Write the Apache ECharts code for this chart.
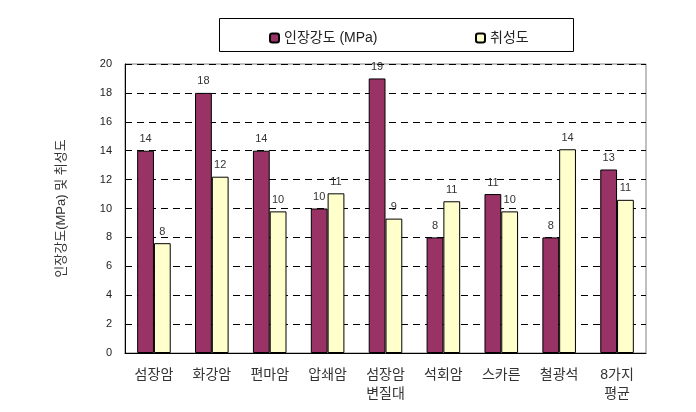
<!DOCTYPE html>
<html>
<head>
<meta charset="utf-8">
<script src="https://cdn.jsdelivr.net/npm/echarts@6/dist/echarts.min.js"></script>
<style>
  html, body { margin: 0; padding: 0; background: #fff; }
  #chart { width: 696px; height: 412px; }
</style>
</head>
<body>
<div id="chart"></div>
<script>
// 암석별 인장강도 / 취성도
var rocks = ['섬장암', '화강암', '편마암', '압쇄암', '섬장암\n변질대', '석회암', '스카른', '철광석', '8가지\n평균'];
var tensile = [14, 18, 14, 10, 19, 8, 11, 8, 12.7];
var brittle = [7.6, 12.2, 9.8, 11.05, 9.3, 10.5, 9.8, 14.1, 10.6];
var yTicks = [0, 20, 2];   // min, max, interval

var FONT = "'Liberation Sans', 'Noto Sans CJK KR', sans-serif";

var myChart = echarts.init(document.getElementById('chart'));

var option = {
  animation: false,
  textStyle: { fontFamily: FONT },
  graphic: [{
    type: 'rect',
    shape: { x: 219.5, y: 18.5, width: 354, height: 33 },
    style: { fill: 'none', stroke: '#000', lineWidth: 1 }
  }],
  legend: [{
    left: 264, top: 26,
    data: ['인장강도 (MPa)'],
    itemWidth: 9, itemHeight: 9, itemGap: 4,
    textStyle: { fontSize: 14, color: '#222', fontFamily: FONT }
  }, {
    left: 470, top: 26,
    data: ['취성도'],
    itemWidth: 9, itemHeight: 9, itemGap: 4,
    textStyle: { fontSize: 14, color: '#222', fontFamily: FONT }
  }],
  grid: {
    left: 125, right: 50, top: 64, bottom: 59,
    show: true, borderColor: '#808080', borderWidth: 1
  },
  xAxis: {
    type: 'category',
    data: rocks,
    axisLine: { lineStyle: { color: '#000' } },
    axisTick: { inside: true, length: 5, lineStyle: { color: '#000' } },
    axisLabel: {
      fontSize: 14, color: '#333', margin: 13, lineHeight: 19,
      fontFamily: FONT
    }
  },
  yAxis: {
    type: 'value',
    min: yTicks[0], max: yTicks[1], interval: yTicks[2],
    name: '인장강도(MPa) 및 취성도',
    nameLocation: 'middle',
    nameGap: 57,
    nameTextStyle: { fontSize: 13, color: '#333', fontFamily: FONT },
    axisLine: { show: true, lineStyle: { color: '#000' } },
    axisTick: { show: true, inside: true, length: 5, lineStyle: { color: '#000' } },
    axisLabel: { fontSize: 11, color: '#222', margin: 13 },
    splitLine: { lineStyle: { color: '#000', type: [7, 5], width: 1 } }
  },
  series: [{
    name: '인장강도 (MPa)',
    type: 'bar',
    data: tensile,
    barGap: '0%',
    barCategoryGap: '42%',
    itemStyle: { color: '#993366', borderColor: '#000', borderWidth: 1 },
    label: {
      show: true, position: 'top', distance: 6, fontSize: 11, color: '#333',
      formatter: function (p) { return Math.round(p.value); }
    }
  }, {
    name: '취성도',
    type: 'bar',
    data: brittle,
    itemStyle: { color: '#FFFFCC', borderColor: '#000', borderWidth: 1 },
    label: {
      show: true, position: 'top', distance: 6, fontSize: 11, color: '#333',
      formatter: function (p) { return Math.round(p.value); }
    }
  }]
};

myChart.setOption(option);
</script>
</body>
</html>
